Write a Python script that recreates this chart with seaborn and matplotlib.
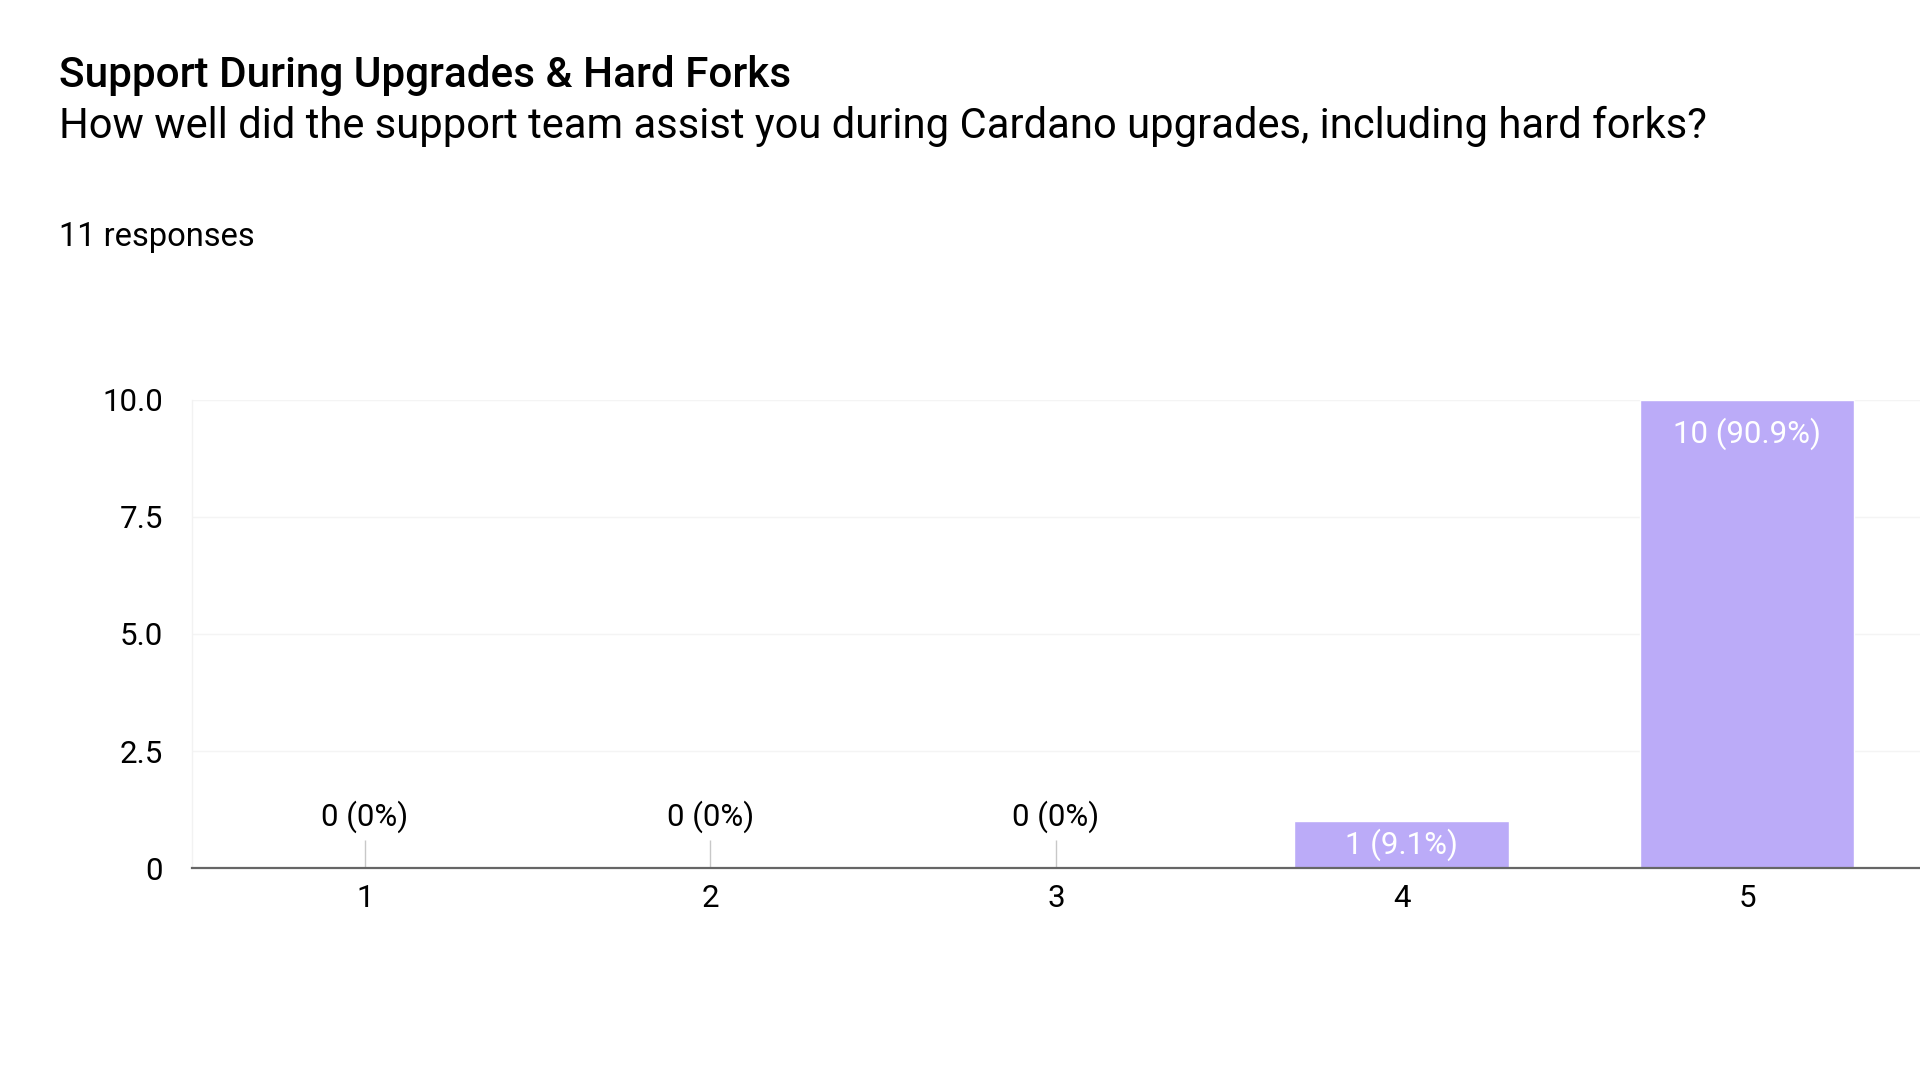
import matplotlib
matplotlib.use("Agg")
import matplotlib.pyplot as plt
import seaborn as sns
import pandas as pd

# ---- data ----
categories = ["1", "2", "3", "4", "5"]
counts = [0, 0, 0, 1, 10]
total_responses = 11
y_ticks = [0, 2.5, 5.0, 7.5, 10.0]
y_tick_labels = ["0", "2.5", "5.0", "7.5", "10.0"]
title = "Support During Upgrades & Hard Forks"
subtitle = "How well did the support team assist you during Cardano upgrades, including hard forks?"
responses_label = f"{total_responses} responses"

BAR_COLOR = "#BBABF8"
FONT = ["Roboto", "DejaVu Sans"]
LABEL_FS = 22.5

sns.set_theme(style="white")
plt.rcParams["font.family"] = FONT

W, H = 1920, 1080
fig = plt.figure(figsize=(W / 100, H / 100), dpi=100)
fig.patch.set_facecolor("white")

def fit_text(x, y, s, target_px, fs0=20, **kw):
    t = fig.text(x, y, s, fontsize=fs0, **kw)
    fig.canvas.draw()
    w = t.get_window_extent(renderer=fig.canvas.get_renderer()).width
    t.set_fontsize(fs0 * target_px / w)
    return t

# header texts
fit_text(0.0306, 1 - 0.070, title, 733, va="center", ha="left",
         color="#000000", fontweight="medium")
fit_text(0.0306, 1 - 0.117, subtitle, 1647, va="center", ha="left", color="#000000")
fit_text(0.0306, 1 - 0.219, responses_label, 195, va="center", ha="left", color="#000000")

# axes
ax = fig.add_axes([0.100, 0.196, 0.900, 0.434])
df = pd.DataFrame({"rating": categories, "count": counts})
sns.barplot(data=df, x="rating", y="count", color=BAR_COLOR, width=0.62,
            saturation=1, ax=ax, order=categories)
ax.set_xlim(-0.5, 4.5)
ax.set_ylim(0, 10)
ax.set_xlabel("")
ax.set_ylabel("")

ax.set_yticks(y_ticks)
ax.set_yticklabels(y_tick_labels)
ax.tick_params(axis="both", length=0, labelsize=LABEL_FS, colors="#000000")
ax.tick_params(axis="x", pad=11)
ax.tick_params(axis="y", pad=21)

ax.grid(axis="y", color="#f4f4f4", linewidth=1)
ax.grid(axis="x", visible=False)
ax.set_axisbelow(True)
for side in ["top", "right"]:
    ax.spines[side].set_visible(False)
ax.spines["left"].set_color("#f2f2f2")
ax.spines["left"].set_linewidth(1)
ax.spines["bottom"].set_color("#666666")
ax.spines["bottom"].set_linewidth(1.6)
ax.spines["bottom"].set_zorder(5)

# value labels
pct = [c / total_responses * 100 for c in counts]
for i, (c, p) in enumerate(zip(counts, pct)):
    ptxt = f"{p:.1f}".rstrip("0").rstrip(".") if p % 1 else f"{p:.0f}"
    label = f"{c} ({ptxt}%)"
    if c == 0:
        ax.vlines(i, 0, 0.6, color="#c8c8c8", linewidth=1, zorder=3)
        ax.text(i, 1.1, label, ha="center", va="center", fontsize=LABEL_FS, color="#000000")
    else:
        ax.text(i, max(c - 0.73, c / 2), label, ha="center", va="center",
                fontsize=LABEL_FS, color="white")

fig.savefig("out.png", dpi=100, facecolor="white")
